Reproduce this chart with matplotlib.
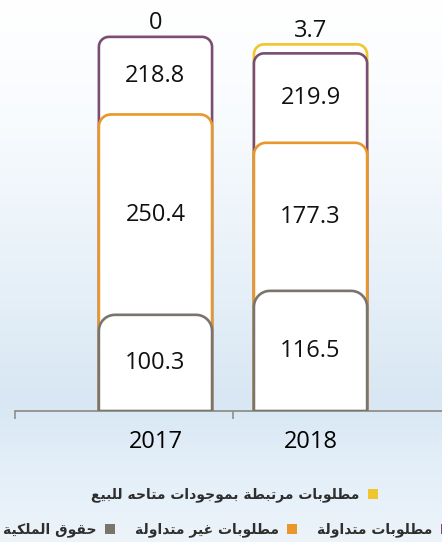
import numpy as np
import matplotlib
matplotlib.use('Agg')
import matplotlib.pyplot as plt
from matplotlib.path import Path
from matplotlib.patches import PathPatch, Patch
from matplotlib.colors import to_rgb

# data
years = ['2017', '2018']
equity = [100.3, 116.5]
non_current = [250.4, 177.3]
current = [218.8, 219.9]
held_for_sale = [0, 3.7]

series_labels = ['حقوق الملكية', 'مطلوبات غير متداولة', 'مطلوبات متداولة',
                 'مطلوبات مرتبطة بموجودات متاحه للبيع']
colors = ['#79756c', '#e9962b', '#7a4e73', '#f1c62c']
radii = [16, 12, 10, 10]   # corner radius in px

# arabic shaping (presentation forms) since matplotlib has no bidi/shaping
FORMS = {'ا': (0xFE8D, 2), 'ب': (0xFE8F, 4), 'ة': (0xFE93, 2), 'ت': (0xFE95, 4),
         'ج': (0xFE9D, 4), 'ح': (0xFEA1, 4), 'د': (0xFEA9, 2), 'ر': (0xFEAD, 2),
         'ط': (0xFEC1, 4), 'ع': (0xFEC9, 4), 'غ': (0xFECD, 4), 'ق': (0xFED5, 4),
         'ك': (0xFED9, 4), 'ل': (0xFEDD, 4), 'م': (0xFEE1, 4), 'ه': (0xFEE9, 4),
         'و': (0xFEED, 2), 'ي': (0xFEF1, 4)}


def shape(text):
    out = []
    for i, c in enumerate(text):
        if c not in FORMS:
            out.append(c)
            continue
        base, n = FORMS[c]
        prev = text[i - 1] if i > 0 else ''
        nxt = text[i + 1] if i + 1 < len(text) else ''
        jp = prev in FORMS and FORMS[prev][1] == 4
        jn = n == 4 and nxt in FORMS
        off = 3 if (jp and jn) else 1 if jp else 2 if jn else 0
        out.append(chr(base + off))
    return ''.join(out)[::-1]


fig = plt.figure(figsize=(4.42, 5.42), dpi=100)

# soft blue background
bg = fig.add_axes([0, 0, 1, 1])
stops_y = [0, 120, 260, 400, 460, 542]
stops_c = [to_rgb(c) for c in ['#ffffff', '#f8fbfe', '#e9f2f9', '#d8e7f3', '#e2eef8', '#edf4fa']]
yy = np.arange(542)
img = np.zeros((542, 442, 3))
for k in range(3):
    col = np.interp(yy, stops_y, [c[k] for c in stops_c])
    img[:, :, k] = col[:, None]
bg.imshow(img, aspect='auto', extent=(0, 1, 0, 1))
bg.axis('off')

ax = fig.add_axes([15 / 442, 131 / 542, 427 / 442, 411 / 542])
ax.patch.set_alpha(0)
ax.set_yscale('log')
ax.set_ylim(55, 717)
ax.set_xlim(-0.906, 1.848)
for s in ['top', 'left', 'right']:
    ax.spines[s].set_visible(False)
ax.spines['bottom'].set_color('#8f8f8f')
ax.spines['bottom'].set_linewidth(1.3)
ax.set_yticks([])
ax.set_yticks([], minor=True)
x = np.arange(len(years))
ax.set_xticks(x)
ax.set_xticklabels(years, fontsize=17, family='Open Sans')
ax.tick_params(axis='x', which='major', length=0, pad=14)
ax.set_xticks([-0.906, 0.5], minor=True)
ax.tick_params(axis='x', which='minor', length=6, width=1.2, color='#8f8f8f', direction='out')

stack = np.cumsum([equity, non_current, current, held_for_sale], axis=0)
values = [equity, non_current, current, held_for_sale]
width = 0.73
base = ax.get_ylim()[0]
T = ax.transData
inv = T.inverted()

# display tops, small top segment gets a minimum visible height
tops = np.zeros_like(stack)
for j in range(len(years)):
    for i in range(4):
        tops[i, j] = T.transform((x[j], stack[i, j]))[1]
        if i == 3 and values[i][j] > 0:
            tops[i, j] = max(tops[i, j], tops[i - 1, j] + 9)
y_base = T.transform((0, base))[1]


def rounded_bar(xc, ytop, r, color, z):
    x0 = T.transform((xc - width / 2, base))[0]
    x1 = T.transform((xc + width / 2, base))[0]
    t1 = np.linspace(np.pi, np.pi / 2, 12)
    t2 = np.linspace(np.pi / 2, 0, 12)
    verts = [(x0, y_base), (x0, ytop - r)]
    verts += [(x0 + r + r * np.cos(t), ytop - r + r * np.sin(t)) for t in t1]
    verts += [(x1 - r + r * np.cos(t), ytop - r + r * np.sin(t)) for t in t2]
    verts += [(x1, y_base), (x0, y_base), (x0, y_base)]
    path = Path(inv.transform(verts), closed=True)
    ax.add_patch(PathPatch(path, facecolor='white', edgecolor=color, lw=1.9, zorder=z))


for j in range(len(years)):
    for i in [3, 2, 1, 0]:
        if values[i][j] > 0:
            rounded_bar(x[j], tops[i, j], radii[i], colors[i], 10 - i)
    for i in range(3):
        lo = y_base if i == 0 else tops[i - 1, j]
        ym = inv.transform((0, (lo + tops[i, j]) / 2))[1]
        ax.text(x[j], ym, f'{values[i][j]:g}', ha='center', va='center',
                fontsize=17, family='Open Sans', color='#111111', zorder=20)
    ytop = inv.transform((0, max(tops[2, j], tops[3, j])))[1]
    ax.annotate(f'{held_for_sale[j]:g}', (x[j], ytop), xytext=(0, 1),
                textcoords='offset points', ha='center', va='bottom',
                fontsize=17, family='Open Sans', color='#111111', annotation_clip=False)

handles = [Patch(facecolor=c, edgecolor='none') for c in colors]
labels = [shape(s) for s in series_labels]
prop = {'family': 'DejaVu Sans', 'weight': 'bold', 'size': 10}
common = dict(markerfirst=False, frameon=False, loc='center right', prop=prop,
              handlelength=0.75, handleheight=0.75, handletextpad=0.6,
              borderpad=0, borderaxespad=0, labelcolor='#2e2e2e')
fig.legend(handles[:3], labels[:3], ncol=3, columnspacing=1.4,
           bbox_to_anchor=(451 / 442, 1 - 530 / 542), **common)
fig.legend(handles[3:], labels[3:], bbox_to_anchor=(378 / 442, 1 - 495 / 542), **common)

fig.savefig('out.png', dpi=100)
